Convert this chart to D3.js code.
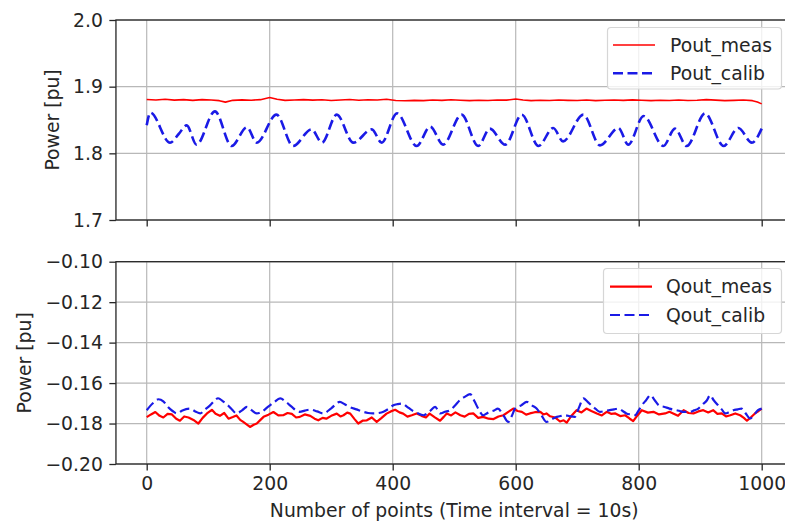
<!DOCTYPE html>
<html>
<head>
<meta charset="utf-8">
<script src="https://cdn.jsdelivr.net/npm/d3@7/dist/d3.min.js"></script>
<style>
  html, body { margin: 0; padding: 0; background: #fff; }
  svg { display: block; }
  text { font-family: "DejaVu Sans", sans-serif; fill: #262626; }
</style>
</head>
<body>
<svg id="chart" width="785" height="522"></svg>
<script>
// ---- data -------------------------------------------------------------
const xTicks = [0, 200, 400, 600, 800, 1000];
const pTicks = [1.7, 1.8, 1.9, 2.0];
const qTicks = [-0.20, -0.18, -0.16, -0.14, -0.12, -0.10];

// Active power, measured
const pMeasX = [0,15,30,45,60,75,90,105,118,128,140,155,170,185,200,212,225,240,255,270,285,300,315,330,345,360,375,390,405,420,435,450,465,480,495,510,525,540,555,570,585,600,612,625,640,655,670,685,700,715,730,745,760,775,790,805,820,835,850,865,880,895,910,925,940,955,970,985,993,1000];
const pMeasY = [1.8808,1.8800,1.8812,1.8798,1.8806,1.8795,1.8805,1.8800,1.8790,1.8768,1.8795,1.8802,1.8797,1.8805,1.8838,1.8812,1.8795,1.8800,1.8806,1.8798,1.8804,1.8792,1.8800,1.8808,1.8796,1.8803,1.8800,1.8812,1.8793,1.8788,1.8795,1.8790,1.8800,1.8795,1.8803,1.8797,1.8790,1.8796,1.8792,1.8800,1.8798,1.8815,1.8800,1.8790,1.8797,1.8793,1.8800,1.8795,1.8792,1.8799,1.8790,1.8796,1.8800,1.8794,1.8802,1.8796,1.8790,1.8797,1.8793,1.8799,1.8792,1.8796,1.8806,1.8798,1.8790,1.8795,1.8799,1.8790,1.8770,1.8742];

// Active power, calibrated model
const pCalibX = [0,6,38,52,65,81,111,138,163,179,211,238,268,285,309,336,366,382,407,439,461,482,512,539,558,583,610,637,661,677,710,737,767,783,808,840,859,878,908,938,962,984,1000];
const pCalibY = [1.842,1.861,1.816,1.829,1.842,1.813,1.863,1.811,1.839,1.816,1.858,1.811,1.836,1.816,1.858,1.816,1.836,1.816,1.860,1.811,1.840,1.813,1.858,1.811,1.837,1.813,1.858,1.811,1.838,1.818,1.858,1.812,1.838,1.813,1.856,1.811,1.837,1.811,1.860,1.811,1.838,1.816,1.837];

// Reactive power, measured
const qMeasX = [0,7,14,21,27,34,41,48,54,61,68,76,84,91,98,106,112,119,126,133,140,146,152,157,163,168,174,179,185,190,198,206,214,222,229,236,243,249,257,266,273,279,286,292,300,309,315,320,326,331,338,344,351,358,366,374,382,390,397,404,411,417,424,431,439,447,454,460,468,477,483,488,495,502,510,517,524,531,539,547,556,564,572,580,588,596,603,610,617,623,631,640,645,650,656,664,672,678,683,691,699,707,715,723,732,740,748,755,762,770,778,785,791,798,805,815,824,833,843,850,856,864,873,881,889,897,905,913,921,928,935,942,949,957,965,971,976,983,989,995,1000];
const qMeasY = [-0.1768,-0.1755,-0.1743,-0.1762,-0.1770,-0.1752,-0.1755,-0.1776,-0.1786,-0.1765,-0.1770,-0.1782,-0.1800,-0.1772,-0.1750,-0.1732,-0.1752,-0.1762,-0.1748,-0.1776,-0.1768,-0.1760,-0.1782,-0.1792,-0.1805,-0.1817,-0.1806,-0.1800,-0.1782,-0.1767,-0.1756,-0.1743,-0.1760,-0.1759,-0.1748,-0.1752,-0.1770,-0.1767,-0.1755,-0.1762,-0.1776,-0.1784,-0.1772,-0.1776,-0.1762,-0.1751,-0.1765,-0.1759,-0.1746,-0.1751,-0.1778,-0.1800,-0.1786,-0.1784,-0.1770,-0.1792,-0.1772,-0.1751,-0.1740,-0.1732,-0.1745,-0.1751,-0.1766,-0.1759,-0.1750,-0.1762,-0.1770,-0.1751,-0.1768,-0.1786,-0.1767,-0.1750,-0.1760,-0.1745,-0.1759,-0.1766,-0.1752,-0.1750,-0.1772,-0.1767,-0.1776,-0.1778,-0.1765,-0.1759,-0.1742,-0.1726,-0.1738,-0.1742,-0.1756,-0.1750,-0.1744,-0.1742,-0.1755,-0.1750,-0.1764,-0.1770,-0.1790,-0.1784,-0.1795,-0.1760,-0.1734,-0.1745,-0.1726,-0.1738,-0.1750,-0.1760,-0.1742,-0.1752,-0.1750,-0.1763,-0.1759,-0.1775,-0.1788,-0.1760,-0.1734,-0.1746,-0.1742,-0.1755,-0.1750,-0.1742,-0.1750,-0.1762,-0.1734,-0.1748,-0.1750,-0.1740,-0.1734,-0.1745,-0.1734,-0.1752,-0.1750,-0.1765,-0.1759,-0.1750,-0.1759,-0.1772,-0.1786,-0.1768,-0.1750,-0.1738,-0.1726];

// Reactive power, calibrated model
const qCalibX = [0,10,19,27,35,42,49,58,70,79,87,95,103,110,116,124,132,139,146,155,163,171,179,188,197,207,217,227,236,243,249,257,266,277,287,300,314,322,330,341,352,360,368,377,385,393,401,408,415,423,431,440,450,460,469,477,485,493,501,509,517,526,533,539,547,553,558,565,571,580,588,594,599,609,618,626,634,642,650,659,667,674,680,688,696,703,710,717,723,730,737,745,753,760,767,774,780,787,794,800,805,812,819,826,833,842,850,855,861,867,872,878,883,890,897,904,911,916,922,929,935,941,948,954,961,967,974,981,988,994,1000];
const qCalibY = [-0.1734,-0.1700,-0.1680,-0.1690,-0.1720,-0.1738,-0.1750,-0.1735,-0.1726,-0.1740,-0.1750,-0.1730,-0.1710,-0.1688,-0.1675,-0.1690,-0.1710,-0.1732,-0.1750,-0.1735,-0.1718,-0.1735,-0.1750,-0.1740,-0.1718,-0.1695,-0.1676,-0.1695,-0.1718,-0.1735,-0.1742,-0.1736,-0.1731,-0.1740,-0.1750,-0.1725,-0.1693,-0.1705,-0.1718,-0.1730,-0.1742,-0.1748,-0.1750,-0.1748,-0.1742,-0.1728,-0.1710,-0.1704,-0.1701,-0.1716,-0.1734,-0.1748,-0.1759,-0.1740,-0.1718,-0.1750,-0.1742,-0.1734,-0.1712,-0.1685,-0.1668,-0.1655,-0.1690,-0.1726,-0.1759,-0.1750,-0.1742,-0.1735,-0.1726,-0.1760,-0.1792,-0.1760,-0.1726,-0.1710,-0.1693,-0.1710,-0.1726,-0.1760,-0.1792,-0.1778,-0.1767,-0.1762,-0.1759,-0.1764,-0.1767,-0.1720,-0.1676,-0.1693,-0.1710,-0.1728,-0.1742,-0.1738,-0.1734,-0.1730,-0.1726,-0.1738,-0.1750,-0.1755,-0.1759,-0.1735,-0.1710,-0.1685,-0.1660,-0.1685,-0.1710,-0.1718,-0.1726,-0.1730,-0.1734,-0.1738,-0.1742,-0.1742,-0.1742,-0.1735,-0.1726,-0.1705,-0.1685,-0.1660,-0.1685,-0.1710,-0.1730,-0.1750,-0.1742,-0.1734,-0.1730,-0.1726,-0.1750,-0.1775,-0.1755,-0.1734,-0.1726];

const topSeries = [
  { name: "Pout_meas",  xs: pMeasX,  ys: pMeasY,  color: "#ff0000", width: 1.6, dash: null },
  { name: "Pout_calib", xs: pCalibX, ys: pCalibY, color: "#1a1ae6", width: 2.6, dash: "10,4.5" }
];
const botSeries = [
  { name: "Qout_meas",  xs: qMeasX,  ys: qMeasY,  color: "#ff0000", width: 2.2, dash: null },
  { name: "Qout_calib", xs: qCalibX, ys: qCalibY, color: "#1a1ae6", width: 2.2, dash: "10,4.5" }
];

// ---- layout -----------------------------------------------------------
const FONT = 18.8;
const svg = d3.select("#chart");
svg.append("rect").attr("width", 785).attr("height", 522).attr("fill", "#fff");

const x = d3.scaleLinear().domain([-50, 1050]).range([115.95, 792.45]);

const panels = [
  { y: d3.scaleLinear().domain([1.7, 2.0]).range([220, 20]), ticks: pTicks, fmt: d3.format(".1f"),
    series: topSeries, showX: false, ylabX: 59, legend: { x: 607.5, y: 27.5, w: 174, h: 61.5, lx0: 613, lx1: 655, tx: 670, rows: [45, 73.3] } },
  { y: d3.scaleLinear().domain([-0.20, -0.10]).range([464, 261.7]), ticks: qTicks, fmt: d3.format(".2f"),
    series: botSeries, showX: true, ylabX: 31, legend: { x: 603.5, y: 268.5, w: 178, h: 65, lx0: 610, lx1: 652, tx: 666, rows: [286.7, 315] } }
];

panels.forEach((p, i) => {
  const y = p.y;
  const [yb, yt] = y.range();
  const [xl, xr] = x.range();
  const g = svg.append("g");
  const clipId = "clip" + i;
  svg.append("clipPath").attr("id", clipId)
    .append("rect").attr("x", xl).attr("y", yt).attr("width", xr - xl).attr("height", yb - yt);

  // grid
  const grid = g.append("g").attr("stroke", "#b8b8b8").attr("stroke-width", 1.2);
  grid.selectAll(".gx").data(xTicks).join("line")
    .attr("x1", d => x(d)).attr("x2", d => x(d)).attr("y1", yt).attr("y2", yb);
  grid.selectAll(".gy").data(p.ticks).join("line")
    .attr("x1", xl).attr("x2", xr).attr("y1", d => y(d)).attr("y2", d => y(d));

  // series
  const plot = g.append("g").attr("clip-path", `url(#${clipId})`);
  p.series.forEach(s => {
    const pts = s.xs.map((v, k) => [v, s.ys[k]]);
    const line = d3.line().x(d => x(d[0])).y(d => y(d[1]))
      .curve(s.dash ? d3.curveMonotoneX : d3.curveLinear);
    plot.append("path").datum(pts)
      .attr("fill", "none").attr("stroke", s.color).attr("stroke-width", s.width)
      .attr("stroke-linejoin", "round")
      .attr("stroke-dasharray", s.dash)
      .attr("d", line);
  });

  // axes
  const ay = g.append("g").attr("transform", `translate(${xl},0)`)
    .call(d3.axisLeft(y).tickValues(p.ticks).tickFormat(p.fmt).tickSize(6.6).tickPadding(6.4));
  const ax = g.append("g").attr("transform", `translate(0,${yb})`)
    .call(d3.axisBottom(x).tickValues(xTicks).tickSize(6.6).tickPadding(6.4)
      .tickFormat(p.showX ? d3.format("d") : () => ""));
  [ay, ax].forEach(a => {
    a.select(".domain").remove();
    a.selectAll("line").attr("stroke", "#262626").attr("stroke-width", 1.3);
    a.selectAll("text").attr("font-size", FONT).attr("font-family", "DejaVu Sans").attr("fill", "#262626");
  });

  // frame
  g.append("rect").attr("x", xl).attr("y", yt).attr("width", xr - xl).attr("height", yb - yt)
    .attr("fill", "none").attr("stroke", "#262626").attr("stroke-width", 1.3);

  // y label
  g.append("text").attr("transform", `translate(${p.ylabX},${(yt + yb) / 2}) rotate(-90)`)
    .attr("text-anchor", "middle").attr("font-size", FONT).text("Power [pu]");

  // legend
  const L = p.legend;
  const lg = g.append("g");
  lg.append("rect").attr("x", L.x).attr("y", L.y).attr("width", L.w).attr("height", L.h)
    .attr("rx", 3.5).attr("fill", "#fff").attr("fill-opacity", 0.8)
    .attr("stroke", "#d6d6d6").attr("stroke-width", 1.2);
  p.series.forEach((s, k) => {
    const ry = L.rows[k];
    lg.append("line").attr("x1", L.lx0).attr("x2", L.lx1).attr("y1", ry).attr("y2", ry)
      .attr("stroke", s.color).attr("stroke-width", s.width).attr("stroke-dasharray", s.dash);
    lg.append("text").attr("x", L.tx).attr("y", ry).attr("dy", "0.35em")
      .attr("font-size", FONT).text(s.name);
  });
});

// shared x label
svg.append("text").attr("x", (x.range()[0] + x.range()[1]) / 2).attr("y", 517)
  .attr("text-anchor", "middle").attr("font-size", FONT)
  .text("Number of points (Time interval = 10s)");
</script>
</body>
</html>
